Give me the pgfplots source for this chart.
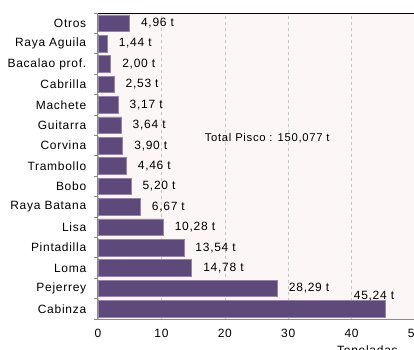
\documentclass[border=0pt]{standalone}
\usepackage{pgfplots}
\pgfplotsset{compat=1.18}
\usepackage{fontspec}
\setmainfont[LetterSpace=6]{Liberation Sans}
\definecolor{barc}{RGB}{94,74,122}
\definecolor{baredge}{RGB}{150,132,170}
\definecolor{bg}{RGB}{253,246,246}
\definecolor{axgray}{RGB}{140,140,140}
\pgfplotstableread{
idx val
1 28.29
2 14.78
3 13.54
4 10.28
5 6.67
6 5.20
7 4.46
8 3.90
9 3.64
10 3.17
11 2.53
12 2.00
13 1.44
14 4.96
}\restdata
\begin{document}
\begin{tikzpicture}[x=1pt,y=1pt]
\begin{axis}[
  at={(0,0)}, anchor=south west,
  scale only axis, width=317pt, height=306pt,
  xmin=0, xmax=50, ymin=-0.5, ymax=14.5,
  xbar, bar width=16.5pt,
  axis background/.style={fill=bg},
  axis x line*=bottom, axis y line*=left,
  axis line style={axgray, line width=1pt},
  ytick={0,...,14},
  yticklabels={Cabinza,Pejerrey,Loma,Pintadilla,Lisa,Raya Batana,Bobo,Trambollo,Corvina,Guitarra,Machete,Cabrilla,Bacalao prof.,Raya Aguila,Otros},
  major y tick style={draw=none},
  minor ytick={-0.5,0.5,...,14.5},
  minor y tick style={axgray, line width=0.8pt},
  minor tick length=4pt,
  tick align=outside,
  xtick={0,10,20,30,40,50},
  major x tick style={draw=none},
  xmajorgrids, grid style={dashed, gray!45, line width=0.5pt},
  yticklabel style={font=\fontsize{12}{14}\selectfont, xshift=-4pt},
  xticklabel style={font=\fontsize{12}{14}\selectfont, yshift=-2pt},
  /pgf/number format/assume math mode=true,
  clip=false,
]
\addplot[xbar, bar shift=0pt, fill=barc, draw=baredge, line width=0.6pt,
  nodes near coords={\pgfmathprintnumber[fixed,fixed zerofill,precision=2,use comma]{\pgfplotspointmeta}\ t},
  nodes near coords align=horizontal,
  every node near coord/.append style={font=\fontsize{12}{14}\selectfont, black, xshift=8pt}]
  table[x=val, y=idx] {\restdata};
\addplot[xbar, bar shift=0pt, fill=barc, draw=baredge, line width=0.6pt]
  coordinates {(45.24,0)};
\node[anchor=west, font=\fontsize{12}{14}\selectfont] at (axis cs:39.8,0.62) {45,24 t};
\node[anchor=west, font=\fontsize{11.3}{13}\selectfont] at (axis cs:16.3,8.35) {Total Pisco : 150,077 t};
\node[anchor=north, font=\fontsize{12}{14}\selectfont] at (axis cs:42.5,-1.65) {Toneladas};
\draw[black, line width=1pt] (axis cs:0,14.5) -- (axis cs:50,14.5);
\end{axis}
\pgfresetboundingbox
\useasboundingbox (-98pt,-30pt) rectangle (316pt,319pt);
\end{tikzpicture}
\end{document}
